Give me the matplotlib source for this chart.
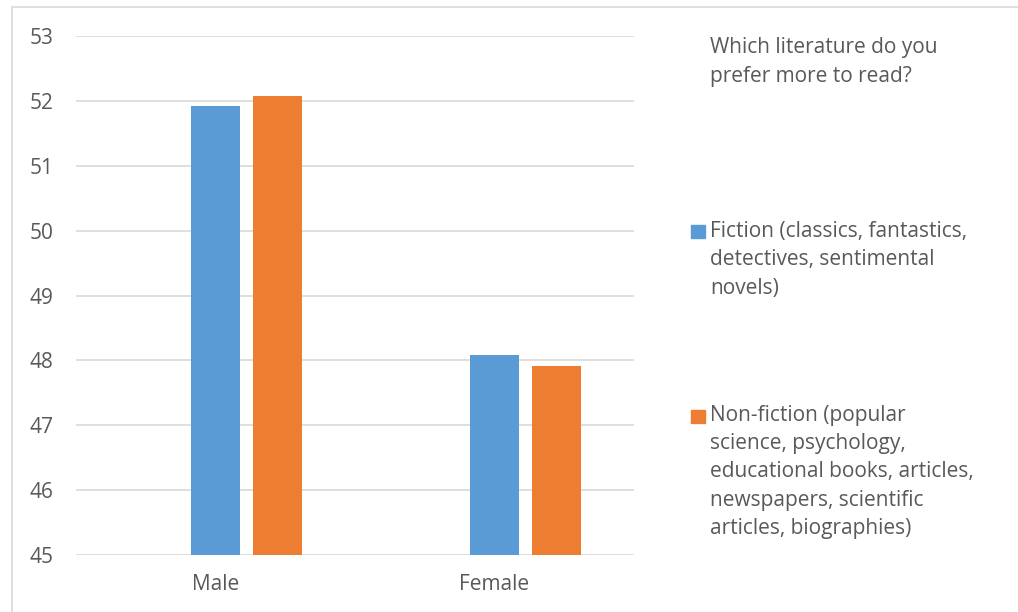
import matplotlib.pyplot as plt
from matplotlib.patches import Rectangle

# survey answers by gender, percent of respondents
genders = ['Male', 'Female']
fiction = [51.92, 48.08]
non_fiction = [52.08, 47.92]
y_ticks = [45, 46, 47, 48, 49, 50, 51, 52, 53]

question = 'Which literature do you\nprefer more to read?'
fiction_label = 'Fiction (classics, fantastics,\ndetectives, sentimental\nnovels)'
non_fiction_label = ('Non-fiction (popular\nscience, psychology,\neducational books, articles,\n'
                     'newspapers, scientific\narticles, biographies)')

blue = '#5b9bd5'
orange = '#ed7d31'
txt = '#595959'
fs = 15

plt.rcParams['font.family'] = ['Open Sans', 'DejaVu Sans']

W, H = 1018, 612
fig = plt.figure(figsize=(W / 100, H / 100), dpi=100)
ax = fig.add_axes([76 / W, 1 - 555 / H, (634 - 76) / W, (555 - 36) / H])

x = list(range(len(genders)))
bw = 0.176
step = 0.222
ax.bar([i for i in x], [v - 45 for v in fiction], bottom=45, width=bw, color=blue, zorder=3)
ax.bar([i + step for i in x], [v - 45 for v in non_fiction], bottom=45, width=bw, color=orange, zorder=3)

ax.set_xlim(-0.5, 1.5)
ax.set_ylim(45, 53)
ax.set_yticks(y_ticks)
ax.set_xticks(x)
ax.set_xticklabels(genders)
ax.tick_params(axis='both', length=0, labelsize=fs, colors=txt)
ax.tick_params(axis='y', pad=16)
ax.tick_params(axis='x', pad=14)
ax.grid(axis='y', color='#d9d9d9', linewidth=1.2, zorder=0)
for s in ax.spines.values():
    s.set_visible(False)

# outer chart frame
fig.patches.append(Rectangle((12 / W, -0.01), 1.02, 1 - 7 / H + 0.01, transform=fig.transFigure,
                             fill=False, edgecolor='#d9d9d9', linewidth=1.2))

# legend block on the right
ls = 1.46
fig.text(710 / W, 1 - 62 / H, question, fontsize=fs, color=txt, va='center', linespacing=ls)
fig.patches.append(Rectangle((691 / W, 1 - 238 / H), 14 / W, 13 / H, transform=fig.transFigure,
                             color=blue))
fig.text(710 / W, 1 - 260 / H, fiction_label, fontsize=fs, color=txt, va='center', linespacing=ls)
fig.patches.append(Rectangle((691 / W, 1 - 423 / H), 14 / W, 13 / H, transform=fig.transFigure,
                             color=orange))
fig.text(710 / W, 1 - 472 / H, non_fiction_label, fontsize=fs, color=txt, va='center', linespacing=ls)

fig.savefig('out.png', dpi=100)
